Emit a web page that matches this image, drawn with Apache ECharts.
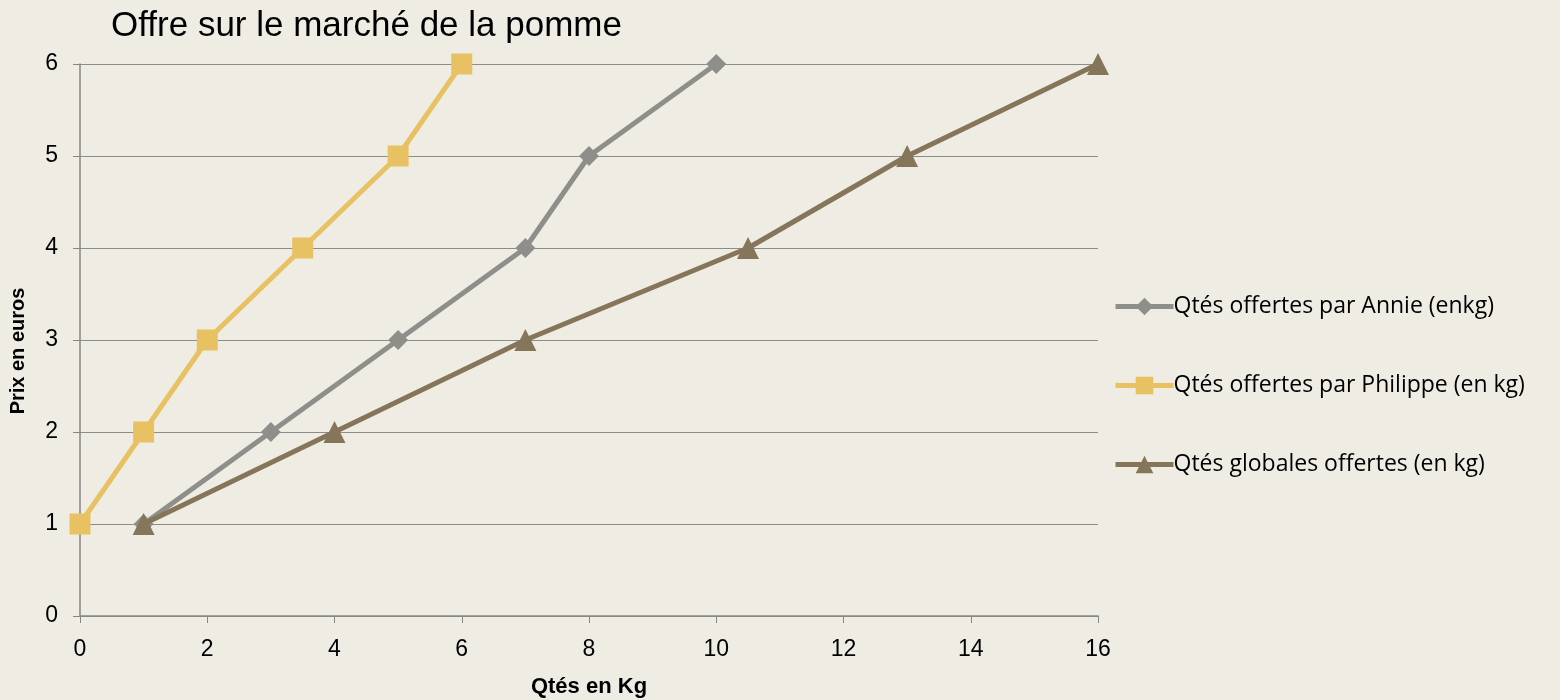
<!DOCTYPE html>
<html>
<head>
<meta charset="utf-8">
<script src="https://cdn.jsdelivr.net/npm/echarts@6/dist/echarts.min.js"></script>
<style>
  html, body { margin: 0; padding: 0; background: #efece4; }
  #main { width: 1560px; height: 700px; }
</style>
</head>
<body>
<div id="main"></div>
<script>
// données : [quantité, prix]
var serieNames = ['Qtés offertes par Annie (enkg)', 'Qtés offertes par Philippe (en kg)', 'Qtés globales offertes (en kg)'];
var annieQte = [1, 3, 5, 7, 8, 10];
var anniePrix = [1, 2, 3, 4, 5, 6];
var philippeQte = [0, 1, 2, 3.5, 5, 6];
var philippePrix = [1, 2, 3, 4, 5, 6];
var globalQte = [1, 4, 7, 10.5, 13, 16];
var globalPrix = [1, 2, 3, 4, 5, 6];

var colors = ['#8e8f8b', '#e8c163', '#857659'];
var narrow = '"Liberation Sans Narrow", "Liberation Sans", Arial, sans-serif';

function pairs(xs, ys) {
    return xs.map(function (x, i) { return [x, ys[i]]; });
}

var chart = echarts.init(document.getElementById('main'));
chart.setOption({
    backgroundColor: '#efece4',
    color: colors,
    animation: false,
    title: {
        text: 'Offre sur le marché de la pomme',
        left: 106,
        top: 4,
        textStyle: { fontFamily: narrow, fontSize: 35, fontWeight: 'normal', color: '#000' }
    },
    legend: {
        orient: 'vertical',
        left: 1108,
        top: 290,
        itemGap: 56,
        itemWidth: 58,
        itemHeight: 22,
        data: serieNames,
        lineStyle: { width: 5 },
        textStyle: { fontFamily: '"Open Sans", "DejaVu Sans", sans-serif', fontSize: 23, color: '#000', padding: [0, 0, 0, -5] }
    },
    grid: { left: 80, right: 462, top: 64, bottom: 84, outerBoundsMode: 'none' },
    xAxis: {
        type: 'value',
        min: 0, max: 16, interval: 2,
        name: 'Qtés en Kg',
        nameLocation: 'middle',
        nameGap: 60,
        nameTextStyle: { fontFamily: narrow, fontSize: 22, fontWeight: 'bold', color: '#000' },
        axisLine: { show: true, lineStyle: { color: '#868686', width: 1.5 } },
        axisTick: { show: true, inside: false, length: 7, lineStyle: { color: '#868686' } },
        axisLabel: { fontFamily: narrow, fontSize: 23, color: '#000', margin: 22 },
        splitLine: { show: false }
    },
    yAxis: {
        type: 'value',
        min: 0, max: 6, interval: 1,
        name: 'Prix en euros',
        nameLocation: 'middle',
        nameGap: 52,
        nameTextStyle: { fontFamily: narrow, fontSize: 20, fontWeight: 'bold', color: '#000', padding: [0, 0, 0, -22] },
        axisLine: { show: true, lineStyle: { color: '#868686', width: 1.5 } },
        axisTick: { show: true, length: 7, lineStyle: { color: '#868686' } },
        axisLabel: { fontFamily: narrow, fontSize: 23, color: '#000', margin: 22 },
        splitLine: { show: true, lineStyle: { color: '#8c8c8c', width: 1.2 } }
    },
    series: [
        {
            name: serieNames[0],
            type: 'line',
            data: pairs(annieQte, anniePrix),
            symbol: 'diamond',
            symbolSize: 20,
            lineStyle: { width: 5 },
            itemStyle: { color: colors[0] },
            z: 3
        },
        {
            name: serieNames[1],
            type: 'line',
            data: pairs(philippeQte, philippePrix),
            symbol: 'rect',
            symbolSize: 21,
            lineStyle: { width: 5 },
            itemStyle: { color: colors[1] },
            z: 4
        },
        {
            name: serieNames[2],
            type: 'line',
            data: pairs(globalQte, globalPrix),
            symbol: 'triangle',
            symbolSize: 22,
            lineStyle: { width: 5 },
            itemStyle: { color: colors[2] },
            z: 5
        }
    ]
});
window.onresize = function () {
    chart.resize();
};
</script>
</body>
</html>
